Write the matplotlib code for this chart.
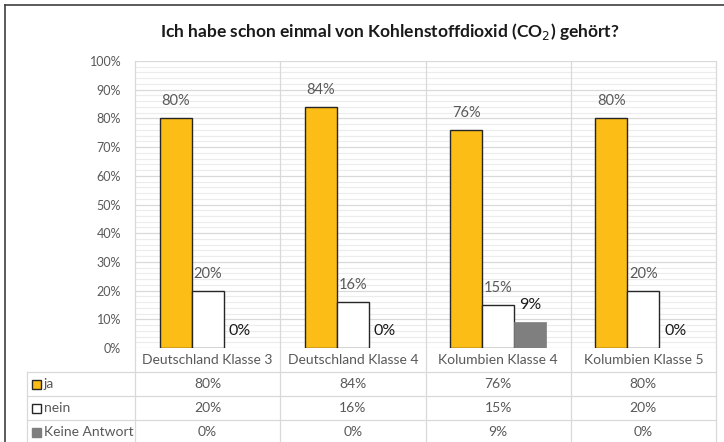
import numpy as np
import matplotlib.pyplot as plt
import matplotlib.transforms as mtransforms
from matplotlib.patches import Rectangle
from matplotlib.lines import Line2D

plt.rcParams['font.family'] = ['Lato', 'DejaVu Sans']

categories = ['Deutschland Klasse 3', 'Deutschland Klasse 4',
              'Kolumbien Klasse 4', 'Kolumbien Klasse 5']
series_names = ['ja', 'nein', 'Keine Antwort']
ja = [80, 84, 76, 80]
nein = [20, 16, 15, 20]
keine = [0, 0, 9, 0]

W, H = 724, 442
fig = plt.figure(figsize=(W / 100, H / 100), dpi=100)


def fy(py):
    # pixel row from the top -> figure fraction
    return 1 - py / H


x0, x1, ytop, ybot = 135, 716, 61, 348
ax = fig.add_axes([x0 / W, fy(ybot), (x1 - x0) / W, (ybot - ytop) / H])
ax.set_xlim(0, 4)
ax.set_ylim(0, 100)

grid_major = '#D9D9D9'
grid_minor = '#ECECEC'
for v in range(2, 100, 2):
    if v % 10:
        ax.axhline(v, color=grid_minor, lw=0.8, zorder=0)
for v in range(10, 101, 10):
    ax.axhline(v, color=grid_major, lw=0.9, zorder=0)

styles = [
    dict(facecolor='#FCBD16', edgecolor='#262626', linewidth=1.0),
    dict(facecolor='white', edgecolor='#262626', linewidth=1.0),
    dict(facecolor='#7F7F80', edgecolor='#7F7F80', linewidth=0.5),
]
label_style = [
    dict(color='#595959', fontsize=10.5),
    dict(color='#595959', fontsize=10.5),
    dict(color='#1A1A1A', fontsize=11.5),
]

bw = 32 / 145
xs = np.arange(len(categories)) + 0.5
for i, vals in enumerate([ja, nein, keine]):
    pos = xs + (i - 1) * bw
    ax.bar(pos, vals, width=bw, zorder=3, **styles[i])
    for p, v in zip(pos, vals):
        ax.text(p, v + 3.5, f'{v}%', ha='center', va='bottom', zorder=4,
                **label_style[i])

ax.set_yticks(range(0, 101, 10))
ax.set_yticklabels([f'{v}%' for v in range(0, 101, 10)], color='#595959',
                   fontsize=9)
ax.tick_params(axis='y', length=0, pad=10)
ax.set_xticks([])
for s in ax.spines.values():
    s.set_visible(False)

# category separators through plot and table
trans = mtransforms.blended_transform_factory(ax.transData, fig.transFigure)
for k in range(len(categories) + 1):
    fig.add_artist(Line2D([k, k], [fy(ytop), fy(H + 5)], transform=trans,
                          color=grid_major, lw=0.9, clip_on=False))
ax.axhline(0, color=grid_major, lw=0.9, zorder=2)

# data table
xl = (27 - x0) / 145
rows = [372, 396, 420]
for r in rows:
    fig.add_artist(Line2D([xl, 4], [fy(r), fy(r)], transform=trans,
                          color=grid_major, lw=0.9))
fig.add_artist(Line2D([xl, xl], [fy(372), fy(H + 5)], transform=trans,
                      color=grid_major, lw=0.9))

for k, c in enumerate(categories):
    fig.text(k + 0.5, fy(360), c, transform=trans, ha='center', va='center',
             color='#595959', fontsize=10)

table_vals = [ja, nein, keine]
for j, (name, vals) in enumerate(zip(series_names, table_vals)):
    yc = fy(rows[j] + 12)
    for k, v in enumerate(vals):
        fig.text(k + 0.5, yc, f'{v}%', transform=trans, ha='center',
                 va='center', color='#595959', fontsize=10)
    st = styles[j]
    fig.add_artist(Rectangle((32 / W, yc - 4.5 / H), 9 / W, 9 / H,
                             transform=fig.transFigure,
                             facecolor=st['facecolor'],
                             edgecolor=st['edgecolor'], lw=1.0))
    fig.text(44 / W, yc, name, ha='left', va='center', color='#595959',
             fontsize=10)

# title
fig.text(390 / W, fy(32), r'Ich habe schon einmal von Kohlenstoffdioxid (CO$_2$) gehört?',
         ha='center', va='center', fontsize=12.5, fontweight='bold',
         color='#1A1A1A')

# outer frame
fig.add_artist(Line2D([5 / W, 1], [fy(5), fy(5)], color='#404040', lw=1.2))
fig.add_artist(Line2D([5 / W, 5 / W], [fy(5), 0], color='#404040', lw=1.2))

fig.savefig('out.png', dpi=100)
